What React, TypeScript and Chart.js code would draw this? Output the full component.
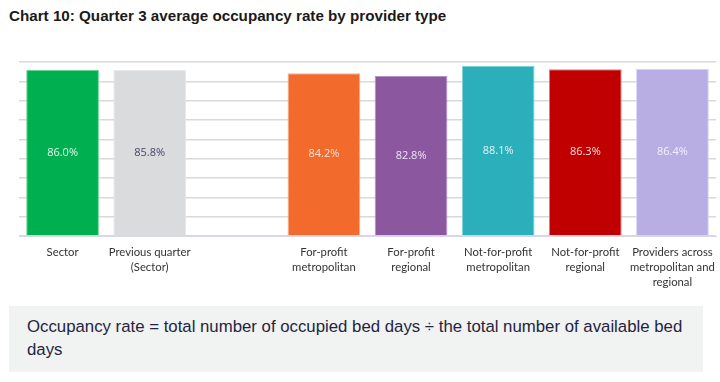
import React, { useEffect, useRef } from "react";
import { Chart, registerables } from "chart.js";

Chart.register(...registerables);

const titleText = "Chart 10: Quarter 3 average occupancy rate by provider type";
const noteLine1 = "Occupancy rate = total number of occupied bed days ÷ the total number of available bed";
const noteLine2 = "days";

const categories: (string | string[])[] = [
  "Sector",
  ["Previous quarter", "(Sector)"],
  "",
  ["For-profit", "metropolitan"],
  ["For-profit", "regional"],
  ["Not-for-profit", "metropolitan"],
  ["Not-for-profit", "regional"],
  ["Providers across", "metropolitan and", "regional"],
];
const values: (number | null)[] = [86.0, 85.8, null, 84.2, 82.8, 88.1, 86.3, 86.4];
const barColors = ["#00b050", "#d9dbdc", "rgba(0,0,0,0)", "#f26b2d", "#8b58a0", "#2bb0bb", "#c00000", "#b8aee3"];
const barBorders = ["#6fd69a", "#e6e8e9", "rgba(0,0,0,0)", "#f9b08e", "#b391c2", "#7fd3da", "#e07a7a", "#d8d1f3"];
const labelColors = ["#e3f5ea", "#44466a", "#ffffff", "#fde3d6", "#eee3f3", "#e3f4f5", "#f5dddd", "#f3f0fc"];
const yMax = 90;
const yStep = 10;

const dataLabelPlugin = {
  id: "barValueLabels",
  afterDatasetsDraw(chart: any) {
    const ctx = chart.ctx;
    const meta = chart.getDatasetMeta(0);
    meta.data.forEach((el: any, i: number) => {
      const v = values[i];
      if (v == null) return;
      const p = el.getProps(["x", "y", "base"], true);
      ctx.save();
      ctx.font = "11px 'Open Sans', sans-serif";
      ctx.fillStyle = labelColors[i];
      ctx.textAlign = "center";
      ctx.textBaseline = "middle";
      ctx.fillText(v.toFixed(1) + "%", p.x, (p.y + p.base) / 2);
      ctx.restore();
    });
  },
};

// Draws the multi-line category labels under each x tick.
const xLabelPlugin = {
  id: "xCategoryLabels",
  afterDraw(chart: any) {
    const ctx = chart.ctx;
    const xs = chart.scales.x;
    const lineH = 15;
    ctx.save();
    ctx.font = "11.3px Lato, 'Open Sans', sans-serif";
    ctx.fillStyle = "#333333";
    ctx.textAlign = "center";
    ctx.textBaseline = "middle";
    categories.forEach((cat, i) => {
      const lines = Array.isArray(cat) ? cat : [cat];
      const x = xs.getPixelForTick(i);
      lines.forEach((line, j) => {
        if (!line) return;
        ctx.fillText(line, x, xs.top + 16 + j * lineH);
      });
    });
    ctx.restore();
  },
};

export default function App() {
  const canvasRef = useRef<HTMLCanvasElement | null>(null);

  useEffect(() => {
    if (!canvasRef.current) return;
    const chart = new Chart(canvasRef.current, {
      type: "bar",
      data: {
        labels: categories,
        datasets: [
          {
            data: values as any,
            backgroundColor: barColors,
            borderColor: barBorders,
            borderWidth: 1,
            barPercentage: 0.835,
            categoryPercentage: 1.0,
          },
        ],
      },
      options: {
        responsive: false,
        animation: false,
        layout: { padding: { left: 19, right: 4, top: 22, bottom: 4 } },
        plugins: {
          legend: { display: false },
          tooltip: { enabled: false },
          title: { display: false },
        },
        scales: {
          x: {
            grid: { display: false, drawTicks: false },
            border: { display: true, color: "#d6d6ee", width: 1 },
            ticks: { display: false, autoSkip: false, maxRotation: 0 },
            afterFit: (s: any) => {
              s.height = 60;
            },
          },
          y: {
            min: 0,
            max: yMax,
            ticks: { stepSize: yStep, display: false },
            border: { display: false },
            grid: {
              drawTicks: false,
              lineWidth: 1.5,
              color: (c: any) => (c.tick && c.tick.value === 0 ? "#d6d6ee" : "#d9d9d9"),
            },
            afterFit: (s: any) => {
              s.width = 0;
            },
          },
        },
      },
      plugins: [dataLabelPlugin, xLabelPlugin],
    });
    return () => chart.destroy();
  }, []);

  return (
    <div style={{ position: "relative", width: 720, height: 382, background: "#ffffff", overflow: "hidden" }}>
      <style>{"body{margin:0;}"}</style>
      <div
        style={{
          position: "absolute",
          left: 9,
          top: 6,
          fontFamily: "'Liberation Sans', Arial, sans-serif",
          fontWeight: "bold",
          fontSize: 15.2,
          lineHeight: "19px",
          color: "#1a1a1a",
          whiteSpace: "nowrap",
        }}
      >
        {titleText}
      </div>
      <canvas
        ref={canvasRef}
        width={720}
        height={260}
        style={{ position: "absolute", left: 0, top: 40, width: 720, height: 260, display: "block" }}
      />
      <div
        style={{
          position: "absolute",
          left: 9,
          top: 306,
          width: 694,
          height: 66,
          background: "#f1f2f2",
        }}
      >
        <div
          style={{
            position: "absolute",
            left: 18,
            top: 9,
            fontFamily: "'Liberation Sans', Arial, sans-serif",
            fontSize: 16.8,
            lineHeight: "23px",
            color: "#1f2540",
            whiteSpace: "nowrap",
          }}
        >
          {noteLine1}
          <br />
          {noteLine2}
        </div>
      </div>
    </div>
  );
}
